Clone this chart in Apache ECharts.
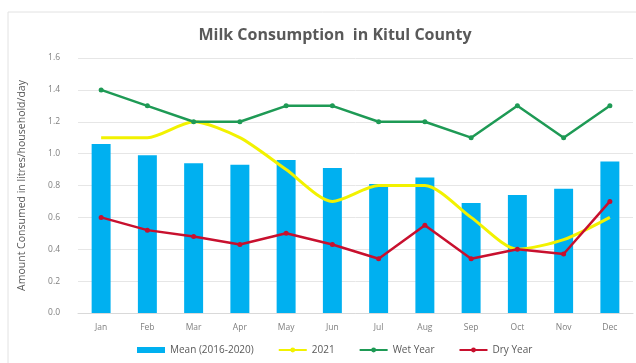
<!DOCTYPE html>
<html>
<head>
<meta charset="utf-8">
<script src="https://cdn.jsdelivr.net/npm/echarts@6/dist/echarts.min.js"></script>
<style>
  html, body { margin: 0; padding: 0; background: #fff; }
  #chart { width: 636px; height: 363px; }
</style>
</head>
<body>
<div id="chart"></div>
<script>
// Monthly milk consumption, litres per household per day
const months = ['Jan', 'Feb', 'Mar', 'Apr', 'May', 'Jun', 'Jul', 'Aug', 'Sep', 'Oct', 'Nov', 'Dec'];
const meanValues = [1.06, 0.99, 0.94, 0.93, 0.96, 0.91, 0.81, 0.85, 0.69, 0.74, 0.78, 0.95];
const year2021 = [1.1, 1.1, 1.2, 1.1, 0.9, 0.7, 0.8, 0.8, 0.6, 0.4, 0.46, 0.6];
const wetYear = [1.4, 1.3, 1.2, 1.2, 1.3, 1.3, 1.2, 1.2, 1.1, 1.3, 1.1, 1.3];
const dryYear = [0.6, 0.52, 0.48, 0.43, 0.5, 0.43, 0.34, 0.55, 0.34, 0.4, 0.37, 0.7];
const yTicks = ['0.0', '0.2', '0.4', '0.6', '0.8', '1.0', '1.2', '1.4', '1.6'];

const chart = echarts.init(document.getElementById('chart'));
const font = 'Open Sans, Liberation Sans, sans-serif';

chart.setOption({
  backgroundColor: '#fff',
  animation: false,
  graphic: [{
    type: 'rect',
    shape: { x: 8, y: 12, width: 640, height: 360 },
    style: { fill: 'none', stroke: '#e2e2e2', lineWidth: 1 },
    silent: true
  }],
  title: {
    text: 'Milk Consumption  in Kitul County',
    left: 330, top: 22, textAlign: 'center',
    textStyle: { fontFamily: font, fontSize: 16, fontWeight: 'bold', color: '#595959' }
  },
  legend: {
    bottom: 3, left: 132,
    itemGap: 24,
    itemWidth: 28, itemHeight: 6,
    textStyle: { fontFamily: font, fontSize: 10, color: '#595959' },
    data: [
      { name: 'Mean (2016-2020)', icon: 'rect' },
      { name: '2021' },
      { name: 'Wet Year' },
      { name: 'Dry Year' }
    ]
  },
  grid: { left: 78, right: 3, top: 58, bottom: 50 },
  xAxis: {
    type: 'category',
    data: months,
    axisLine: { lineStyle: { color: '#d9d9d9' } },
    axisTick: { show: false },
    axisLabel: { fontFamily: font, fontSize: 8.5, color: '#7f7f7f', margin: 10 }
  },
  yAxis: {
    type: 'value',
    min: 0, max: 1.6, interval: 0.2,
    name: 'Amount Consumed in litres/household/day',
    nameLocation: 'middle',
    nameGap: 50,
    nameTextStyle: { fontFamily: font, fontSize: 10.5, color: '#595959' },
    axisLine: { show: false },
    axisTick: { show: false },
    splitLine: { lineStyle: { color: '#e6e6e6' } },
    axisLabel: {
      fontFamily: font, fontSize: 8.5, color: '#7f7f7f', margin: 18,
      formatter: (v) => yTicks[Math.round(v / 0.2)]
    }
  },
  series: [
    {
      name: 'Mean (2016-2020)', type: 'bar', data: meanValues,
      barWidth: '41%',
      itemStyle: { color: '#00b0f0' }
    },
    {
      name: '2021', type: 'line', data: year2021,
      symbol: 'none', smooth: 0.25,
      lineStyle: { color: '#f2f200', width: 3 },
      itemStyle: { color: '#f2f200' }
    },
    {
      name: 'Wet Year', type: 'line', data: wetYear,
      symbol: 'circle', symbolSize: 5,
      lineStyle: { color: '#1e9a55', width: 2.5 },
      itemStyle: { color: '#1e9a55' }
    },
    {
      name: 'Dry Year', type: 'line', data: dryYear,
      symbol: 'circle', symbolSize: 5,
      lineStyle: { color: '#c8102e', width: 2.5 },
      itemStyle: { color: '#c8102e' }
    }
  ]
});
</script>
</body>
</html>
